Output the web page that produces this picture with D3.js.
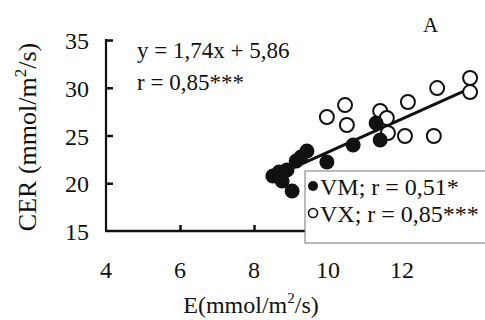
<!DOCTYPE html>
<html><head><meta charset="utf-8">
<script src="https://cdn.jsdelivr.net/npm/d3@7"></script>
<style>body{margin:0;background:#fff}svg{display:block}text{font-family:"Liberation Serif","Times New Roman",serif;fill:#111}</style>
</head><body>
<svg id="c" width="485" height="320"></svg>
<script>
const vmX = [8.51, 8.68, 8.76, 8.89, 9.03, 9.14, 9.27, 9.43, 9.97, 10.68, 11.30, 11.41];
const vmY = [20.76, 21.18, 20.24, 21.39, 19.19, 22.33, 22.75, 23.38, 22.23, 24.01, 26.31, 24.53];
const vxX = [9.97, 10.46, 10.51, 11.41, 11.59, 11.62, 12.08, 12.16, 12.86, 12.95, 13.84, 13.84];
const vxY = [26.94, 28.19, 26.10, 27.57, 26.83, 25.26, 24.95, 28.51, 24.95, 29.97, 31.02, 29.55];
const xTicks = [4, 6, 8, 10, 12];
const yTicks = [15, 20, 25, 30, 35];
const slope = 1.74, intercept = 5.86;
const eqLabel = "y = 1,74x + 5,86";
const rLabel = "r = 0,85***";
const legendLabels = ["VM; r = 0,51*", "VX; r = 0,85***"];
const panelLabel = "A";

const svg = d3.select("#c");
const x = d3.scaleLinear().domain([4, 14]).range([106, 476]);
const y = d3.scaleLinear().domain([15, 35]).range([231, 40]);

// axes
const yAxis = svg.append("g").attr("transform", "translate(106,0)")
  .call(d3.axisRight(y).tickValues(yTicks).tickSize(7).tickFormat(""));
yAxis.select(".domain").attr("d", "M0,39V231").attr("stroke", "#111").attr("stroke-width", 2.2);
yAxis.selectAll(".tick line").attr("stroke", "#111").attr("stroke-width", 2.5);
yAxis.selectAll(".tick").filter(d => d === 15).remove();

const xAxis = svg.append("g").attr("transform", "translate(0,231)")
  .call(d3.axisTop(x).tickValues(xTicks).tickSize(6).tickFormat(""));
xAxis.select(".domain").attr("d", "M105,0H476").attr("stroke", "#111").attr("stroke-width", 2.5);
xAxis.selectAll(".tick line").attr("stroke", "#111").attr("stroke-width", 2.5);
xAxis.selectAll(".tick").filter(d => d === 4).remove();

// tick labels
svg.append("g").selectAll("text").data(yTicks).join("text")
  .attr("x", 89).attr("y", d => y(d) + 9).attr("text-anchor", "end")
  .style("font-size", "24px").text(d => d);
svg.append("g").selectAll("text").data(xTicks).join("text")
  .attr("x", d => x(d)).attr("y", 278).attr("text-anchor", "middle")
  .style("font-size", "24px").text(d => d);

// axis titles
const yl = svg.append("text").attr("transform", "translate(36,137) rotate(-90)")
  .attr("text-anchor", "middle").style("font-size", "26px");
yl.append("tspan").text("CER (mmol/m");
yl.append("tspan").attr("dy", -10).style("font-size", "17px").text("2");
yl.append("tspan").attr("dy", 10).text("/s)");
const xl = svg.append("text").attr("x", 251).attr("y", 313)
  .attr("text-anchor", "middle").style("font-size", "24px");
xl.append("tspan").text("E(mmol/m");
xl.append("tspan").attr("dy", -10).style("font-size", "15px").text("2");
xl.append("tspan").attr("dy", 10).text("/s)");

// regression line
const allX = vmX.concat(vxX);
const xmin = d3.min(allX), xmax = d3.max(allX);
svg.append("line")
  .attr("x1", x(xmin)).attr("y1", y(slope * xmin + intercept))
  .attr("x2", x(xmax)).attr("y2", y(slope * xmax + intercept))
  .attr("stroke", "#111").attr("stroke-width", 3);

// points
svg.append("g").selectAll("circle").data(vxX.map((v, i) => [v, vxY[i]])).join("circle")
  .attr("cx", d => x(d[0])).attr("cy", d => y(d[1])).attr("r", 7)
  .attr("fill", "#fff").attr("stroke", "#111").attr("stroke-width", 2);
svg.append("g").selectAll("circle").data(vmX.map((v, i) => [v, vmY[i]])).join("circle")
  .attr("cx", d => x(d[0])).attr("cy", d => y(d[1])).attr("r", 7.5)
  .attr("fill", "#111");

// equation
svg.append("text").attr("x", 137).attr("y", 58).style("font-size", "23px").text(eqLabel);
svg.append("text").attr("x", 137).attr("y", 90).style("font-size", "23px").text(rLabel);
svg.append("text").attr("x", 423).attr("y", 32).style("font-size", "21px").text(panelLabel);

// legend
const lg = svg.append("g");
lg.append("rect").attr("x", 305).attr("y", 171).attr("width", 190).attr("height", 72)
  .attr("fill", "#fff").attr("stroke", "#777").attr("stroke-width", 1);
lg.append("circle").attr("cx", 313).attr("cy", 186).attr("r", 5).attr("fill", "#111");
lg.append("circle").attr("cx", 313).attr("cy", 213).attr("r", 4.5).attr("fill", "#fff")
  .attr("stroke", "#111").attr("stroke-width", 1.6);
lg.selectAll("text.l").data(legendLabels).join("text").attr("class", "l")
  .attr("x", 320).attr("y", (d, i) => 195 + i * 27).style("font-size", "24px").text(d => d);
</script>
</body></html>
